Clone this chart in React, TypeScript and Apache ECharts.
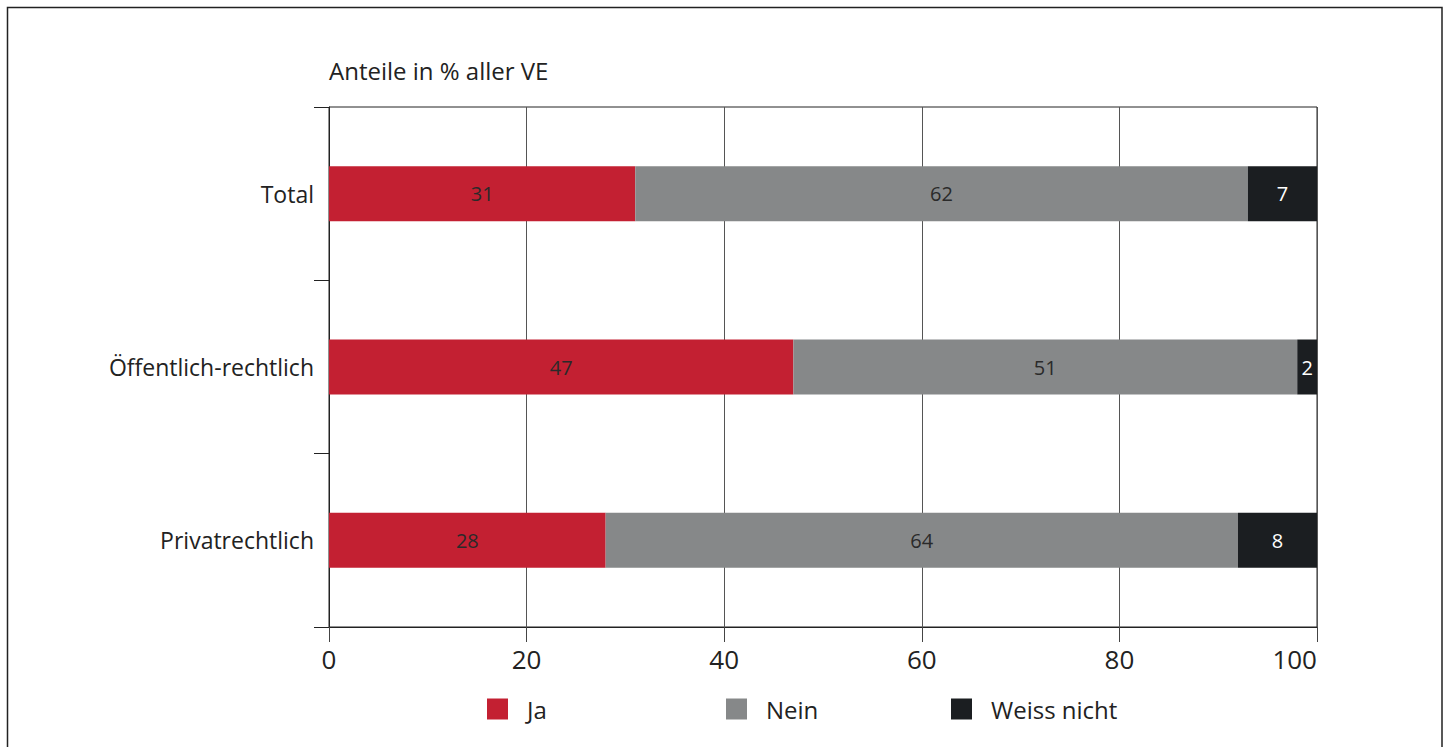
import React, { useEffect, useRef } from "react";
import * as echarts from "echarts";

// Categories, top to bottom
const categories = ["Total", "Öffentlich-rechtlich", "Privatrechtlich"];

// Shares in percent
const ja = [31, 47, 28];
const nein = [62, 51, 64];
const weissNicht = [7, 2, 8];

const xTicks = [0, 20, 40, 60, 80, 100];

const seriesNames = ["Ja", "Nein", "Weiss nicht"];
const colors = ["#C32032", "#868889", "#1B1E21"];
const labelColors = ["#2a2a2a", "#2a2a2a", "#ffffff"];

const FONT = "'Open Sans', Lato, sans-serif";
const WEIGHT = 400;

export default function App() {
  const ref = useRef<HTMLDivElement>(null);

  useEffect(() => {
    if (!ref.current) return;
    const chart = echarts.init(ref.current, undefined, { renderer: "svg" });
    const values = [ja, nein, weissNicht];
    const legendLeft = [482, 721, 946];

    chart.setOption({
      animation: false,
      textStyle: { fontFamily: FONT },
      title: {
        text: "Anteile in % aller VE",
        left: 324,
        top: 53,
        textStyle: { fontFamily: FONT, fontSize: 24, fontWeight: WEIGHT, color: "#222" },
      },
      legend: seriesNames.map((name, i) => ({
        data: [name],
        left: legendLeft[i],
        top: 692,
        itemWidth: 21,
        itemHeight: 21,
        icon: "rect",
        textStyle: {
          fontFamily: FONT,
          fontSize: 24,
          fontWeight: WEIGHT,
          color: "#222",
          padding: [0, 0, 0, 14],
        },
        selectedMode: false,
      })),
      grid: {
        left: 329,
        right: 134,
        top: 107,
        bottom: 120,
        show: true,
        borderColor: "#222",
        borderWidth: 1,
        containLabel: false,
      },
      xAxis: {
        type: "value",
        min: xTicks[0],
        max: xTicks[xTicks.length - 1],
        interval: 20,
        axisLine: { show: true, lineStyle: { color: "#222", width: 1 } },
        axisTick: { show: true, length: 15, lineStyle: { color: "#444", width: 1 } },
        axisLabel: {
          fontFamily: FONT,
          fontSize: 26,
          fontWeight: WEIGHT,
          color: "#222",
          margin: 19,
          alignMaxLabel: "right",
        },
        splitLine: { show: true, lineStyle: { color: "#555", width: 1 } },
      },
      yAxis: {
        type: "category",
        data: categories,
        inverse: true,
        axisLine: { show: true, lineStyle: { color: "#222", width: 1 } },
        axisTick: { show: true, length: 15, lineStyle: { color: "#222", width: 1 } },
        axisLabel: { fontFamily: FONT, fontSize: 23, fontWeight: WEIGHT, color: "#222", margin: 15 },
        splitLine: { show: false },
      },
      series: seriesNames.map((name, i) => ({
        name,
        type: "bar",
        stack: "total",
        barWidth: 55,
        data: values[i],
        itemStyle: { color: colors[i] },
        label: {
          show: true,
          position: "inside",
          fontFamily: FONT,
          fontSize: 20,
          fontWeight: WEIGHT,
          color: labelColors[i],
        },
      })),
      graphic: [
        {
          type: "rect",
          shape: { x: 7.5, y: 7.5, width: 1434.5, height: 760 },
          style: { fill: "none", stroke: "#222", lineWidth: 1.5 },
          silent: true,
        },
      ],
    });

    return () => chart.dispose();
  }, []);

  return (
    <div
      ref={ref}
      style={{ position: "absolute", left: 0, top: 0, width: 1451, height: 747 }}
    />
  );
}
